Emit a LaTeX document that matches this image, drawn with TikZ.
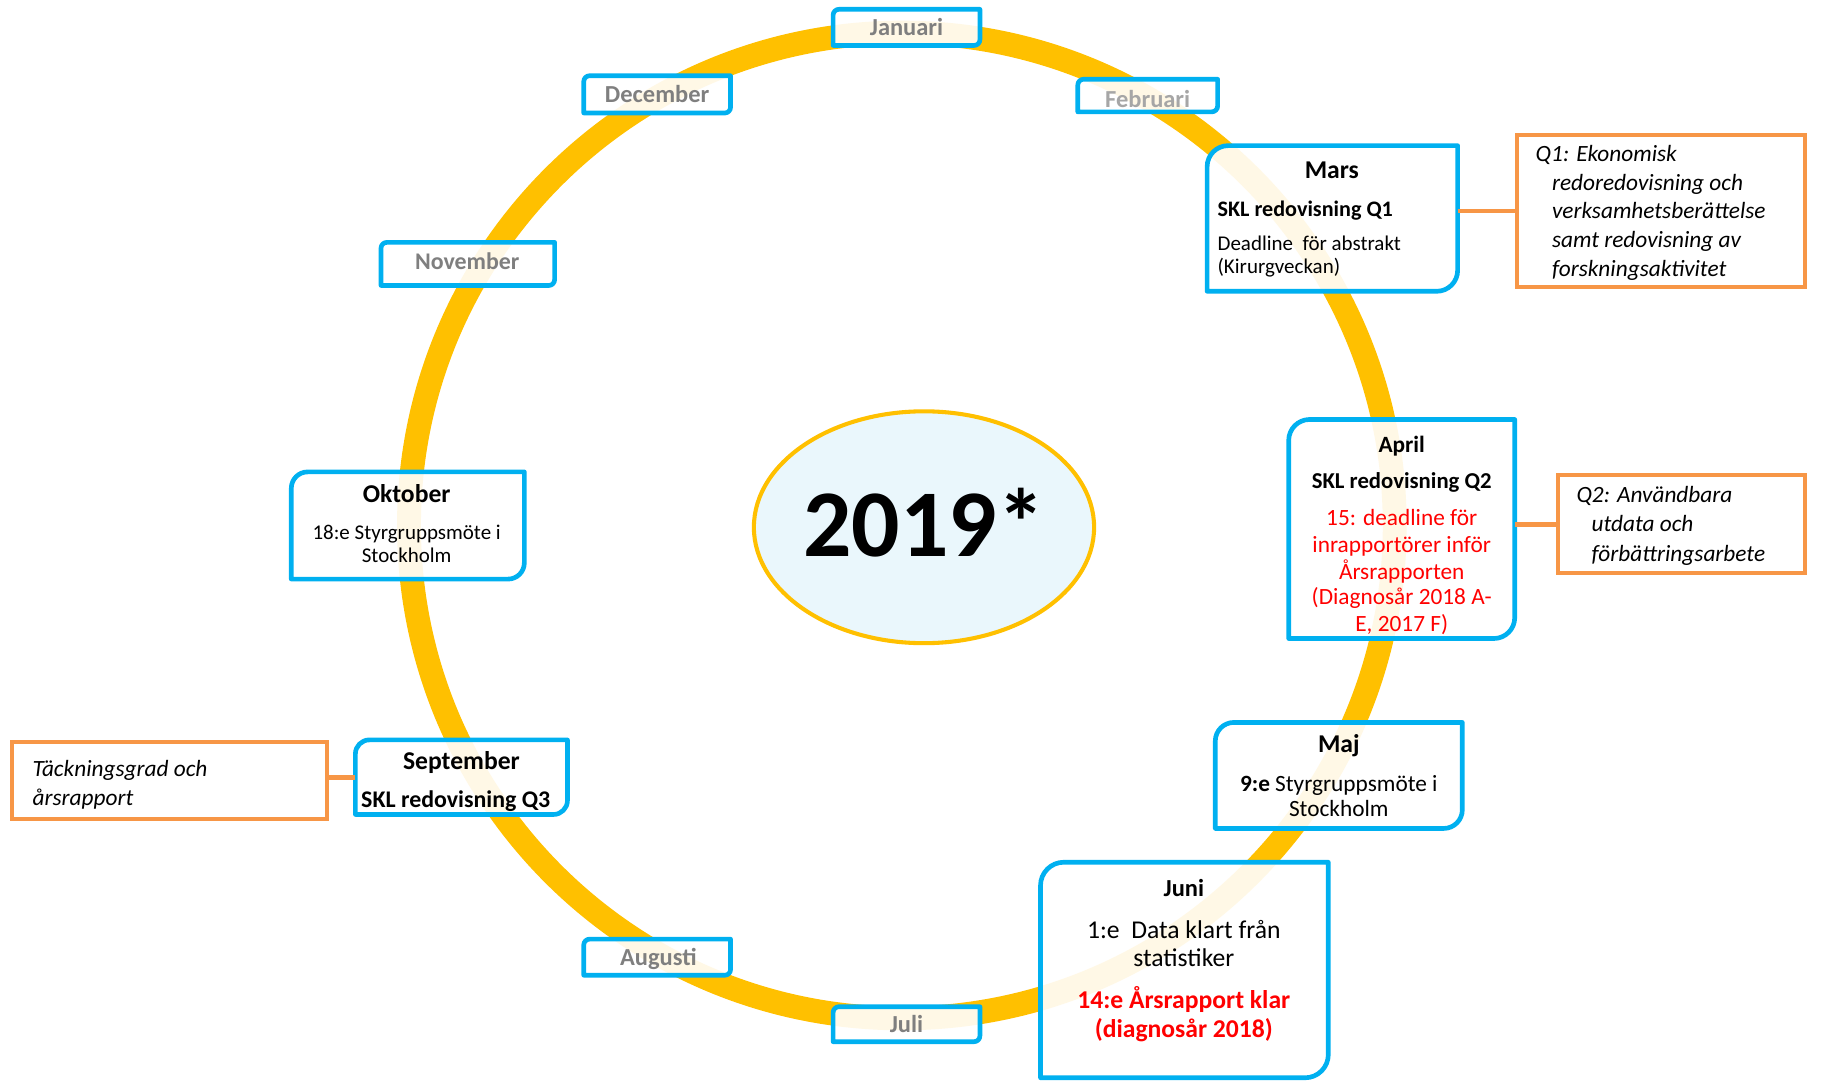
\documentclass[tikz,border=0pt]{standalone}
\usepackage{fontspec}
\setmainfont{Carlito}
\usetikzlibrary{shapes.geometric}
\definecolor{boxblue}{HTML}{00B0F0}
\definecolor{boxorange}{HTML}{F79646}
\definecolor{ringgold}{HTML}{FFC000}
\definecolor{ellfill}{HTML}{EAF7FC}
\definecolor{monthgray}{HTML}{7F7F7F}
\definecolor{lightgray}{HTML}{A6A6A6}
\definecolor{redtxt}{HTML}{FF0000}
\pgfdeclarelayer{paperlayer}
\pgfdeclarelayer{ringlayer}
\pgfdeclarelayer{boxlayer}
\pgfsetlayers{paperlayer,ringlayer,boxlayer,main}
\newcommand{\fsz}[1]{\fontsize{#1}{#1}\selectfont}
\newcommand{\rdbox}[2]{%
  \begin{pgfonlayer}{boxlayer}
  \filldraw[blueline] ([xshift=#2]#1.north west) -- (#1.north east) -- ([yshift=#2]#1.south east) arc[start angle=0,end angle=-90,radius=#2] -- (#1.south west) -- ([yshift=-#2]#1.north west) arc[start angle=180,end angle=90,radius=#2] -- cycle;
  \end{pgfonlayer}}
\tikzset{
  area/.style={shape=rectangle, inner sep=0pt, outer sep=0pt, draw=none},
  blueline/.style={draw=boxblue, line width=4pt, fill=white, fill opacity=0.9, line join=round},
  orangebox/.style={area, draw=boxorange, line width=3.5pt, fill=white},
  conn/.style={draw=boxorange, line width=4pt},
  ringline/.style={draw=ringgold, line width=20.5pt},
  txt/.style={inner sep=0pt, outer sep=0pt, anchor=base},
  ltxt/.style={txt, anchor=base west},
  month/.style={txt, text=monthgray, font=\fsz{21}\bfseries},
  title/.style={txt, font=\fsz{22}\bfseries},
  redl/.style={txt, text=redtxt, font=\fsz{20}},
  ital/.style={ltxt, font=\fsz{20}\itshape},
}
\begin{document}
\begin{tikzpicture}[x=1pt,y=1pt]
\useasboundingbox (0,0) rectangle (1568,-929);
\begin{pgfonlayer}{paperlayer}
\fill[white] (0,0) rectangle (1568,-929);
\end{pgfonlayer}
% ring
\coordinate (ringc) at (774,-451);
\begin{pgfonlayer}{ringlayer}
\draw[ringline] (ringc) circle[radius=423pt];
\end{pgfonlayer}
% centre ellipse
\node[ellipse, draw=ringgold, line width=3.5pt, fill=ellfill, minimum width=292pt, minimum height=199pt, inner sep=0pt] (year) at (793,-452.5) {};
\node[txt, font=\fsz{82}\bfseries] (yeartxt) at (793,-478) {2019*};
% small month boxes
\node[area, minimum width=126pt, minimum height=31pt] (jan) at (778,-23.5) {};
\node[area, minimum width=120pt, minimum height=28pt] (feb) at (985,-82) {};
\node[area, minimum width=126pt, minimum height=32pt] (dec) at (564,-81) {};
\node[area, minimum width=149pt, minimum height=37pt] (nov) at (401.5,-226.5) {};
\node[area, minimum width=126pt, minimum height=31pt] (aug) at (564,-821.5) {};
\node[area, minimum width=126pt, minimum height=30pt] (jul) at (778,-879) {};
\rdbox{jan}{5pt}\rdbox{feb}{5pt}\rdbox{dec}{5pt}\rdbox{nov}{5pt}\rdbox{aug}{5pt}\rdbox{jul}{5pt}
\node[month] (janT) at (778,-30.3) {Januari};
\node[month, text=lightgray] (febT) at (985,-92) {Februari};
\node[month] (decT) at (564,-88) {December};
\node[month, font=\fsz{20.5}\bfseries] (novT) at (401,-231) {November};
\node[month] (augT) at (565,-829) {Augusti};
\node[month] (julT) at (778,-886) {Juli};
% large month boxes
\node[area, minimum width=215pt, minimum height=125pt] (mars) at (1143.5,-187.5) {};
\node[area, minimum width=194pt, minimum height=188pt] (apr) at (1203,-454) {};
\node[area, minimum width=212pt, minimum height=91pt] (maj) at (1149,-665.5) {};
\node[area, minimum width=247pt, minimum height=185pt] (juni) at (1016.5,-832.5) {};
\node[area, minimum width=200pt, minimum height=92pt] (okt) at (350,-451) {};
\node[area, minimum width=182pt, minimum height=64pt] (sep) at (396,-667) {};
\rdbox{mars}{18pt}\rdbox{apr}{18pt}\rdbox{maj}{16pt}\rdbox{juni}{20pt}\rdbox{okt}{14pt}\rdbox{sep}{12pt}
% orange note boxes
\node[orangebox, minimum width=247pt, minimum height=130pt] (q1) at (1425.5,-181) {};
\node[orangebox, minimum width=212pt, minimum height=84pt] (q2) at (1443,-450) {};
\node[orangebox, minimum width=271pt, minimum height=66pt] (tack) at (145.5,-670) {};
\draw[conn] (q1.west -| mars.east) -- (q1.west);
\draw[conn] (q2.west -| apr.east) -- (q2.west);
\draw[conn] (sep.west) -- (sep.west -| tack.east);
% Mars
\node[title] (marsT) at (1143,-153) {Mars};
\node[ltxt, font=\fsz{19}\bfseries] (marsA) at (1045,-185.5) {SKL redovisning Q1};
\node[ltxt, font=\fsz{18}] (marsB) at (1045,-215) {Deadline\ \ för abstrakt};
\node[ltxt, font=\fsz{18}] (marsC) at (1045,-235) {(Kirurgveckan)};
% Q1
\node[ital] (q1a) at (1318,-138.5) {Q1: Ekonomisk};
\node[ital] (q1b) at (1332,-163.5) {redoredovisning och};
\node[ital] (q1c) at (1332,-187.5) {verksamhetsberättelse};
\node[ital] (q1d) at (1332,-212.5) {samt redovisning av};
\node[ital] (q1e) at (1332,-237.5) {forskningsaktivitet};
% April
\node[title, font=\fsz{20}\bfseries] (aprT) at (1203,-388) {April};
\node[txt, font=\fsz{19.5}\bfseries] (aprA) at (1203,-419) {SKL redovisning Q2};
\node[redl] (aprB) at (1203,-451) {15: deadline för};
\node[redl] (aprC) at (1203,-474) {inrapportörer inför};
\node[redl] (aprD) at (1203,-497) {Årsrapporten};
\node[redl] (aprE) at (1203,-519) {(Diagnosår 2018 A-};
\node[redl] (aprF) at (1203,-542) {E, 2017 F)};
% Q2
\node[ital] (q2a) at (1353,-431.5) {Q2: Användbara};
\node[ital] (q2b) at (1366,-456.5) {utdata och};
\node[ital] (q2c) at (1366,-481.5) {förbättringsarbete};
% Maj
\node[title] (majT) at (1149,-645.5) {Maj};
\node[txt, font=\fsz{20}] (majA) at (1149,-679) {\textbf{9:e} Styrgruppsmöte i};
\node[txt, font=\fsz{20}] (majB) at (1149,-701) {Stockholm};
% Juni
\node[title, font=\fsz{21}\bfseries] (juniT) at (1016,-769) {Juni};
\node[txt, font=\fsz{22}] (juniA) at (1016,-805.5) {1:e\ \ Data klart från};
\node[txt, font=\fsz{22}] (juniB) at (1016,-829.5) {statistiker};
\node[txt, font=\fsz{22}\bfseries, text=redtxt] (juniC) at (1016,-865.5) {14:e Årsrapport klar};
\node[txt, font=\fsz{22}\bfseries, text=redtxt] (juniD) at (1016,-890.5) {(diagnosår 2018)};
% Oktober
\node[title] (oktT) at (349,-431.5) {Oktober};
\node[txt, font=\fsz{18}] (oktA) at (349,-463) {18:e Styrgruppsmöte i};
\node[txt, font=\fsz{18}] (oktB) at (349,-483) {Stockholm};
% September
\node[title] (sepT) at (396,-660.5) {September};
\node[ltxt, font=\fsz{20.5}\bfseries] (sepA) at (310,-693) {SKL redovisning Q3};
% Tackningsgrad
\node[ltxt, font=\fsz{20}\itshape] (tackA) at (28,-666) {Täckningsgrad och};
\node[ltxt, font=\fsz{20}\itshape] (tackB) at (28,-691) {årsrapport};
\end{tikzpicture}
\end{document}
